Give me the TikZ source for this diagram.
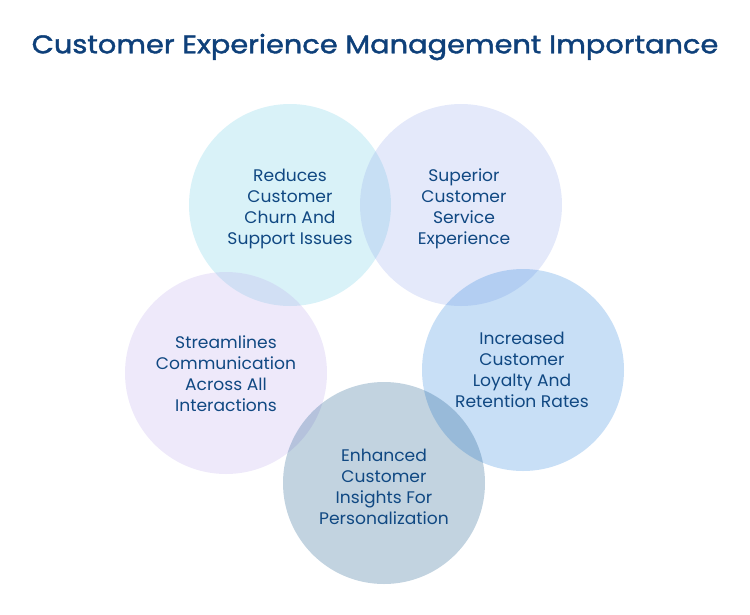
\documentclass[tikz,border=0pt]{standalone}
\usepackage{fontspec}
\setmainfont{Poppins}
\newfontfamily\titlefont[FakeBold=1.6, FakeStretch=1.13]{Poppins}
\newfontfamily\bodyfont[FakeStretch=1.02]{Poppins}
\definecolor{titleblue}{RGB}{14,64,122}
\definecolor{textblue}{RGB}{16,72,130}
\definecolor{cA}{RGB}{103,203,227}
\definecolor{cB}{RGB}{147,167,235}
\definecolor{cC}{RGB}{35,127,219}
\definecolor{cD}{RGB}{11,79,131}
\definecolor{cE}{RGB}{187,167,235}
\tikzset{
  bubble/.style={circle, minimum size=202pt, inner sep=0pt, fill opacity=0.25, draw=none},
  btext/.style={text=textblue, align=center, font=\bodyfont\fontsize{16.8pt}{21pt}\selectfont, inner sep=0pt},
}
\begin{document}
\begin{tikzpicture}[x=1pt,y=-1pt]
\useasboundingbox (0,0) rectangle (750,614);
\node[bubble, fill=cA] (c1) at (290,205) {};
\node[bubble, fill=cB] (c2) at (461,205) {};
\node[bubble, fill=cE] (c5) at (226,373) {};
\node[bubble, fill=cC] (c3) at (523,370) {};
\node[bubble, fill=cD] (c4) at (384,483) {};
\node[font=\titlefont\fontsize{25.5pt}{30pt}\selectfont, text=titleblue] (title) at (375,47) {Customer Experience Management Importance};
\node[btext] (t1) at (290,209) {Reduces\\Customer\\Churn And\\Support Issues};
\node[btext] (t2) at (464,209) {Superior\\Customer\\Service\\Experience};
\node[btext] (t5) at (226,374) {Streamlines\\Communication\\Across All\\Interactions};
\node[btext] (t3) at (522,370) {Increased\\Customer\\Loyalty And\\Retention Rates};
\node[btext] (t4) at (384,487) {Enhanced\\Customer\\Insights For\\Personalization};
\end{tikzpicture}
\end{document}
